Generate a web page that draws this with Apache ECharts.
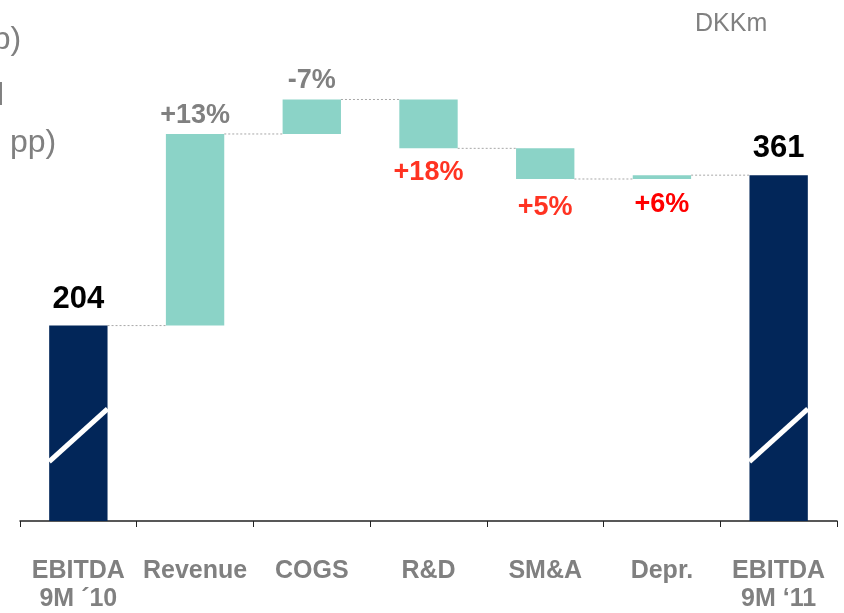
<!DOCTYPE html>
<html lang="en">
<head>
    <meta charset="UTF-8">
    <title>EBITDA bridge</title>
    <script src="https://cdn.jsdelivr.net/npm/echarts@6/dist/echarts.min.js"></script>
</head>
<body style="margin:0">
<div id="main" style="width: 844px;height: 613px;"></div>
<script type="text/javascript">
// bridge data, DKKm
var categories = ['EBITDA\n9M \u00b410', 'Revenue', 'COGS', 'R&D', 'SM&A', 'Depr.', 'EBITDA\n9M \u201811'];
var startValue = 204;
var changes = [200, 36, -51, -32, 4];
var endValue = 361;
var pctLabels = ['+13%', '-7%', '+18%', '+5%', '+6%'];

var navy = '#022659';
var teal = '#8bd3c7';
var grey = '#808080';

// work out running levels
var levels = [startValue];
changes.forEach(function (c) { levels.push(levels[levels.length - 1] + c); });

var baseData = [0];
var barData = [{value: startValue, itemStyle: {color: navy}}];
for (var i = 0; i < changes.length; i++) {
    baseData.push(Math.min(levels[i], levels[i + 1]));
    barData.push({value: Math.abs(changes[i]), itemStyle: {color: teal}});
}
baseData.push(0);
barData.push({value: endValue, itemStyle: {color: navy}});

// label placement per change bar
var labelPos = ['top', 'top', 'bottom', 'bottom', 'bottom'];
var labelDist = [5, 5, 11, 15, 12];
var labelColor = [grey, grey, '#ff3322', '#ff3322', '#ff0000'];

barData.forEach(function (d, idx) {
    if (idx === 0 || idx === barData.length - 1) {
        d.label = {show: true, position: 'top', distance: 11, color: '#000', fontSize: 31,
            fontWeight: 'bold', formatter: String(idx === 0 ? startValue : endValue)};
    } else {
        var k = idx - 1;
        d.label = {show: true, position: labelPos[k], distance: labelDist[k], color: labelColor[k],
            fontSize: 27, fontWeight: 'bold', formatter: pctLabels[k]};
    }
});

// connectors: from each bar to the next at the running level
var connData = [];
for (var j = 0; j < levels.length; j++) connData.push([j, levels[j]]);

var myChart = echarts.init(document.getElementById('main'));
myChart.setOption({
    animation: false,
    textStyle: {fontFamily: 'Liberation Sans'},
    grid: {left: 20, right: 7, top: 42, bottom: 91},
    graphic: [
        {type: 'text', left: -25, top: 24, style: {text: 'pp)', fill: grey, fontSize: 32, fontFamily: 'Liberation Sans'}},
        {type: 'text', left: -3, top: 80, style: {text: 'l', fill: grey, fontSize: 32, fontFamily: 'Liberation Sans'}},
        {type: 'text', left: 10, top: 127, style: {text: 'pp)', fill: grey, fontSize: 32, fontFamily: 'Liberation Sans'}},
        {type: 'text', left: 695, top: 12, style: {text: 'DKKm', fill: grey, fontSize: 25, fontFamily: 'Liberation Sans'}}
    ],
    xAxis: {
        type: 'category',
        data: categories,
        axisLine: {lineStyle: {color: '#222', width: 1.5}},
        axisTick: {show: true, length: 6, lineStyle: {color: '#222'}},
        axisLabel: {color: grey, fontSize: 25, fontWeight: 'bold', lineHeight: 28, margin: 36, interval: 0}
    },
    yAxis: {type: 'value', min: 0, max: 500, show: false, splitLine: {show: false}},
    series: [
        {
            type: 'bar', stack: 'w', barWidth: '50%', silent: true,
            itemStyle: {color: 'transparent'},
            data: baseData
        },
        {
            type: 'bar', stack: 'w', barWidth: '50%',
            data: barData
        },
        {
            type: 'custom',
            data: connData,
            renderItem: function (params, api) {
                var p = api.coord([api.value(0), api.value(1)]);
                var w = api.size([1, 0])[0];
                var bw = w * 0.5;
                return {
                    type: 'line',
                    shape: {x1: p[0] + bw / 2, y1: p[1], x2: p[0] + w - bw / 2, y2: p[1]},
                    style: {stroke: '#a8a8a8', lineWidth: 1, lineDash: [2, 2]}
                };
            },
            z: 1
        },
        {
            // axis break slashes on the total bars
            type: 'custom',
            data: [[0, 0], [categories.length - 1, 0]],
            renderItem: function (params, api) {
                var idx = api.value(0);
                var w = api.size([1, 0])[0] * 0.5;
                var a = api.coord([idx, 62]);
                var b = api.coord([idx, 117]);
                return {
                    type: 'line',
                    shape: {x1: a[0] - w / 2, y1: a[1], x2: b[0] + w / 2, y2: b[1]},
                    style: {stroke: '#fff', lineWidth: 5}
                };
            },
            z: 5
        }
    ]
});
</script>
</body>
</html>
